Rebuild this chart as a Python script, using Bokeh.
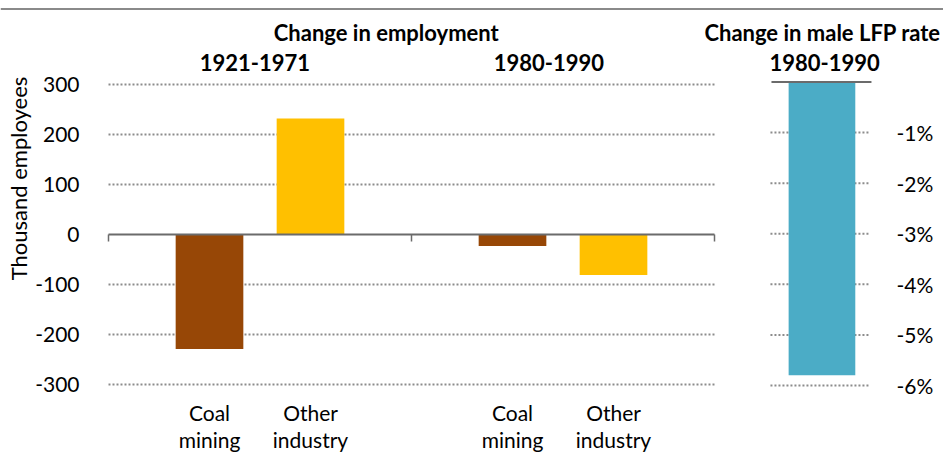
import math
from bokeh.plotting import figure
from bokeh.models import (Range1d, LinearAxis, FixedTicker, PrintfTickFormatter,
                          Span, ColumnDataSource)
from bokeh.core.properties import value
from bokeh.embed import file_html
from bokeh.resources import INLINE

# ---------------- data ----------------
periods = ["1921-1971", "1980-1990"]
sectors = ["Coal\nmining", "Other\nindustry"]
coal_mining = [-229, -23]          # thousand employees
other_industry = [232, -81]        # thousand employees
lfp_period = ["1980-1990"]
male_lfp_change = [-5.8]           # percentage points
emp_ticks = [-300, -200, -100, 0, 100, 200, 300]
lfp_ticks = [-1, -2, -3, -4, -5, -6]
titles = ["Change in employment", "Change in male LFP rate"]
y_title = "Thousand employees"

# ---------------- style ----------------
FONT = "Lato"
FS = "21px"
TXT = "#000000"
GRID = "#8c8c8c"
AXIS = "#6b6b6b"
C_COAL = "#974706"
C_OTHER = "#FFC000"
C_LFP = "#4BACC6"

W, H = 943, 453
p = figure(width=W, height=H, output_backend="svg", toolbar_location=None,
           x_axis_type=None, y_axis_type=None,
           x_range=Range1d(-1.0693, 8.2673), y_range=Range1d(-438, 468),
           min_border_left=0, min_border_right=0, min_border_top=0,
           min_border_bottom=0, outline_line_color=None)
p.extra_y_ranges = {"lfp": Range1d(-7.345, 1.611)}
p.xgrid.visible = False
p.ygrid.visible = False

# category slot positions: 3 slots per period group, bars in slots 1 and 2
coal_x = [3 * g + 1 for g in range(len(periods))]
other_x = [3 * g + 2 for g in range(len(periods))]
group_edges = [3 * g for g in range(len(periods) + 1)]
lfp_x = [group_edges[-1] + 1.064]
right_edge = 7.693

# top rule of the chart
p.add_layout(Span(location=451, dimension="width", line_color="#8a8a8a", line_width=2))

# gridlines (dotted)
grid_vals = [t for t in emp_ticks if t != 0]
p.segment(x0=[group_edges[0]] * len(grid_vals), x1=[group_edges[-1]] * len(grid_vals),
          y0=grid_vals, y1=grid_vals, line_color=GRID, line_width=2, line_dash="2 2")
p.segment(x0=[lfp_x[0] - 0.51] * len(lfp_ticks), x1=[lfp_x[0] + 0.461] * len(lfp_ticks),
          y0=lfp_ticks, y1=lfp_ticks, y_range_name="lfp",
          line_color=GRID, line_width=2, line_dash="2 2")

# bars
p.vbar(x=coal_x, top=coal_mining, bottom=0, width=0.67, fill_color=C_COAL, line_color=None)
p.vbar(x=other_x, top=other_industry, bottom=0, width=0.67, fill_color=C_OTHER, line_color=None)
p.vbar(x=lfp_x, top=0, bottom=male_lfp_change, width=0.66, y_range_name="lfp",
       fill_color=C_LFP, line_color=None)

# zero axis line with group separator ticks
p.segment(x0=[group_edges[0]], x1=[group_edges[-1]], y0=[0], y1=[0],
          line_color=AXIS, line_width=2)
p.segment(x0=group_edges, x1=group_edges, y0=[0] * len(group_edges),
          y1=[-14] * len(group_edges), line_color=AXIS, line_width=1.5)
# top axis line of LFP panel (value 0)
p.segment(x0=[lfp_x[0] - 0.5], x1=[lfp_x[0] + 0.49], y0=[0], y1=[0], y_range_name="lfp",
          line_color=AXIS, line_width=2)

# titles
tsrc = ColumnDataSource(dict(
    x=[2.75, 1.45, 4.36, 7.07, 7.09],
    y=[404, 344, 344, 404, 344],
    text=[titles[0], periods[0], periods[1], titles[1], lfp_period[0]]))
p.text(x="x", y="y", text="text", source=tsrc, text_font=value(FONT),
       text_font_size="22px", text_font_style="bold", text_align="center",
       text_baseline="middle", text_color=TXT)

# y-axis title
p.text(x=[-0.891], y=[112], text=[y_title], angle=math.pi / 2,
       text_font=value(FONT), text_font_size="22px", text_align="center",
       text_baseline="middle", text_color=TXT)

# left axis (fixed at the left edge of the bar area)
ya = LinearAxis(fixed_location=group_edges[0], ticker=FixedTicker(ticks=emp_ticks),
                formatter=PrintfTickFormatter(format="%d"),
                axis_line_color=None, major_tick_line_color=None,
                minor_tick_line_color=None, major_label_standoff=23,
                major_label_text_font=FONT, major_label_text_font_size=FS,
                major_label_text_color=TXT)
p.add_layout(ya, "left")

# right axis (LFP, percent)
ra = LinearAxis(y_range_name="lfp", fixed_location=right_edge,
                ticker=FixedTicker(ticks=lfp_ticks),
                formatter=PrintfTickFormatter(format="%d%%"), axis_line_color=None,
                major_tick_line_color=None, minor_tick_line_color=None,
                major_label_standoff=5, major_label_text_font=FONT,
                major_label_text_font_size=FS, major_label_text_color=TXT)
p.add_layout(ra, "right")

# category axis (below the bar area)
cat_ticks = coal_x + other_x
overrides = {}
for g in range(len(periods)):
    overrides[coal_x[g]] = sectors[0]
    overrides[other_x[g]] = sectors[1]
ca = LinearAxis(fixed_location=-302, ticker=FixedTicker(ticks=cat_ticks),
                major_label_overrides=overrides, axis_line_color=None,
                major_tick_line_color=None, minor_tick_line_color=None,
                major_label_standoff=8, major_label_text_font=FONT,
                major_label_text_font_size=FS, major_label_text_color=TXT,
                major_label_text_line_height=1.1)
p.add_layout(ca, "below")

open("out.html", "w").write(file_html(p, INLINE))
